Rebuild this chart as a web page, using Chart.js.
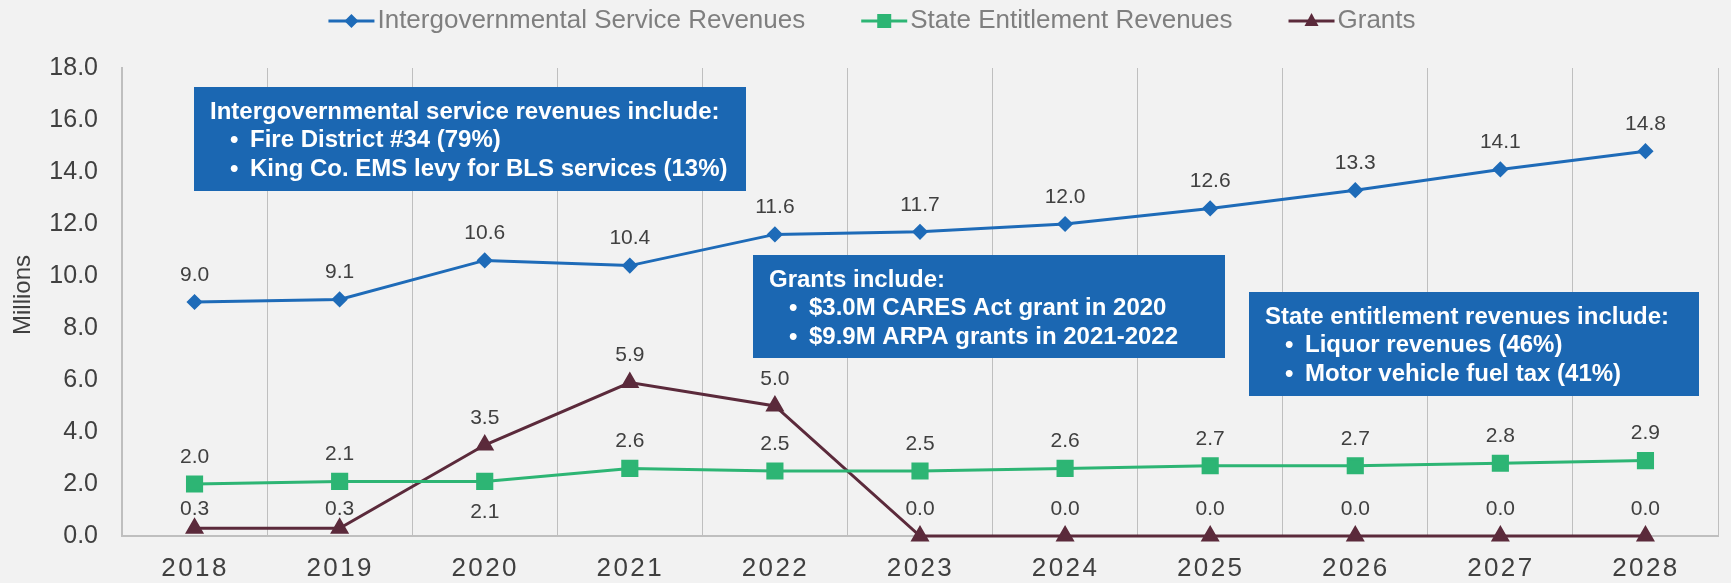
<!DOCTYPE html>
<html lang="en">
<head>
  <meta charset="UTF-8">
  <title>Intergovernmental Revenues</title>
  <script src="https://cdn.jsdelivr.net/npm/chart.js"></script>
  <style>
    body { margin: 0; padding: 0; background: #F2F2F2; font-family: "Liberation Sans", Arial, sans-serif; }
    #wrap { position: relative; width: 1731px; height: 583px; }
  </style>
</head>
<body>
  <div id="wrap"><canvas id="grafico"></canvas></div>

  <script>
    // dados (milhoes)
    const anos = ['2018', '2019', '2020', '2021', '2022', '2023', '2024', '2025', '2026', '2027', '2028'];
    const intergov = [9.0, 9.1, 10.6, 10.4, 11.6, 11.7, 12.0, 12.6, 13.3, 14.1, 14.8];
    const estado = [2.0, 2.1, 2.1, 2.6, 2.5, 2.5, 2.6, 2.7, 2.7, 2.8, 2.9];
    const grants = [0.3, 0.3, 3.5, 5.9, 5.0, 0.0, 0.0, 0.0, 0.0, 0.0, 0.0];
    const yTicks = [0, 2, 4, 6, 8, 10, 12, 14, 16, 18];

    const seriesNomes = ['Intergovernmental Service Revenues', 'State Entitlement Revenues', 'Grants'];
    const cores = ['#1E6BB8', '#2DB574', '#5B2A3B'];

    // deslocamento vertical dos rotulos (negativo = acima)
    const rotuloOffset = [
      intergov.map(() => -27),
      estado.map((v, i) => i === 2 ? 31 : -27),
      grants.map((v, i) => i < 2 ? -19 : -27)
    ];

    const caixas = [
      { x: 194, y: 87, w: 552, h: 104, titulo: 'Intergovernmental service revenues include:',
        itens: ['Fire District #34 (79%)', 'King Co. EMS levy for BLS services (13%)'] },
      { x: 753, y: 255, w: 472, h: 103, titulo: 'Grants include:',
        itens: ['$3.0M CARES Act grant in 2020', '$9.9M ARPA grants in 2021-2022'] },
      { x: 1249, y: 292, w: 450, h: 104, titulo: 'State entitlement revenues include:',
        itens: ['Liquor revenues (46%)', 'Motor vehicle fuel tax (41%)'] }
    ];

    const FONTE = '"Liberation Sans", Arial, sans-serif';

    const fundo = {
      id: 'fundo',
      beforeDraw(chart) {
        const ctx = chart.ctx;
        ctx.save();
        ctx.fillStyle = '#F2F2F2';
        ctx.fillRect(0, 0, chart.width, chart.height);
        ctx.restore();
      }
    };

    // rotulos do eixo x (com espacamento entre letras) e titulo do eixo y
    const textosEixos = {
      id: 'textosEixos',
      afterDraw(chart) {
        const ctx = chart.ctx;
        const sx = chart.scales.x;
        ctx.save();
        ctx.font = '26px ' + FONTE;
        ctx.letterSpacing = '2.4px';
        ctx.fillStyle = '#404040';
        ctx.textAlign = 'center';
        ctx.textBaseline = 'middle';
        anos.forEach((a, i) => {
          ctx.fillText(a, sx.getPixelForValue(i) + 0.5, 569);
        });
        ctx.restore();

        ctx.save();
        ctx.font = '24px ' + FONTE;
        ctx.fillStyle = '#404040';
        ctx.textAlign = 'center';
        ctx.textBaseline = 'middle';
        ctx.translate(23, 295);
        ctx.rotate(-Math.PI / 2);
        ctx.fillText('Millions', 0, 0);
        ctx.restore();
      }
    };

    const rotulos = {
      id: 'rotulos',
      afterDatasetsDraw(chart) {
        const ctx = chart.ctx;
        ctx.save();
        ctx.font = '21px ' + FONTE;
        ctx.fillStyle = '#404040';
        ctx.textAlign = 'center';
        ctx.textBaseline = 'middle';
        chart.data.datasets.forEach((ds, d) => {
          const meta = chart.getDatasetMeta(d);
          meta.data.forEach((pt, i) => {
            ctx.fillText(ds.data[i].toFixed(1), pt.x, pt.y + rotuloOffset[d][i]);
          });
        });
        ctx.restore();
      }
    };

    const anotacoes = {
      id: 'anotacoes',
      afterDraw(chart) {
        const ctx = chart.ctx;
        ctx.save();
        caixas.forEach(c => {
          ctx.fillStyle = '#1B67B2';
          ctx.fillRect(c.x, c.y, c.w, c.h);
          ctx.fillStyle = '#FFFFFF';
          ctx.font = 'bold 24px ' + FONTE;
          ctx.textBaseline = 'alphabetic';
          ctx.textAlign = 'left';
          ctx.fillText(c.titulo, c.x + 16, c.y + 32);
          c.itens.forEach((t, i) => {
            const y = c.y + 60 + i * 29;
            ctx.fillText('•', c.x + 36, y);
            ctx.fillText(t, c.x + 56, y);
          });
        });
        ctx.restore();
      }
    };

    function desenhaMarcador(ctx, estilo, x, y, cor) {
      ctx.fillStyle = cor;
      ctx.beginPath();
      if (estilo === 'rectRot') {
        ctx.moveTo(x, y - 7); ctx.lineTo(x + 7, y); ctx.lineTo(x, y + 7); ctx.lineTo(x - 7, y);
      } else if (estilo === 'rect') {
        ctx.rect(x - 7, y - 7, 14, 14);
      } else {
        ctx.moveTo(x, y - 8); ctx.lineTo(x + 7, y + 5); ctx.lineTo(x - 7, y + 5);
      }
      ctx.closePath();
      ctx.fill();
    }

    const legenda = {
      id: 'legenda',
      afterDraw(chart) {
        const ctx = chart.ctx;
        ctx.save();
        ctx.font = '26px ' + FONTE;
        ctx.textBaseline = 'middle';
        const larguraLinha = 46, gapTexto = 3, gapItem = 56;
        const larguras = seriesNomes.map(n => larguraLinha + gapTexto + ctx.measureText(n).width);
        const total = larguras.reduce((a, b) => a + b, 0) + gapItem * (larguras.length - 1);
        let x = 872 - total / 2;
        const y = 21;
        chart.data.datasets.forEach((ds, i) => {
          ctx.strokeStyle = ds.borderColor;
          ctx.lineWidth = 3;
          ctx.beginPath();
          ctx.moveTo(x, y);
          ctx.lineTo(x + larguraLinha, y);
          ctx.stroke();
          desenhaMarcador(ctx, ds.pointStyle, x + larguraLinha / 2, y, ds.borderColor);
          ctx.fillStyle = '#7F7F7F';
          ctx.fillText(seriesNomes[i], x + larguraLinha + gapTexto, y);
          x += larguras[i] + gapItem;
        });
        ctx.restore();
      }
    };

    const ctx = document.getElementById('grafico').getContext('2d');
    new Chart(ctx, {
      type: 'line',
      data: {
        labels: anos,
        datasets: [
          { label: seriesNomes[0], data: intergov, borderColor: cores[0], backgroundColor: cores[0],
            borderWidth: 3, pointStyle: 'rectRot', pointRadius: 6, pointHoverRadius: 6, tension: 0, clip: false },
          { label: seriesNomes[1], data: estado, borderColor: cores[1], backgroundColor: cores[1],
            borderWidth: 3, pointStyle: 'rect', pointRadius: 10, pointHoverRadius: 10, tension: 0, clip: false },
          { label: seriesNomes[2], data: grants, borderColor: cores[2], backgroundColor: cores[2],
            borderWidth: 3, pointStyle: 'triangle', pointRadius: 8, pointHoverRadius: 8, tension: 0, clip: false }
        ]
      },
      options: {
        responsive: true,
        maintainAspectRatio: false,
        animation: false,
        layout: { padding: { top: 68, right: 0, left: 0, bottom: 0 } },
        plugins: {
          legend: { display: false },
          tooltip: { enabled: false }
        },
        scales: {
          x: {
            offset: true,
            grid: { display: true, offset: true, color: '#BFBFBF', lineWidth: 1, drawTicks: false },
            border: { display: true, color: '#BFBFBF', width: 2 },
            ticks: { display: false },
            afterFit(s) { s.height = 47; }
          },
          y: {
            min: 0,
            max: 18,
            afterBuildTicks(s) { s.ticks = yTicks.map(v => ({ value: v })); },
            grid: { display: false, drawTicks: false },
            border: { display: true, color: '#BFBFBF', width: 2 },
            ticks: {
              color: '#404040', padding: 24,
              font: { size: 25, family: FONTE },
              callback: v => v.toFixed(1)
            },
            title: { display: false },
            afterFit(s) { s.width = 122; }
          }
        }
      },
      plugins: [fundo, textosEixos, rotulos, anotacoes, legenda]
    });
  </script>
</body>
</html>
